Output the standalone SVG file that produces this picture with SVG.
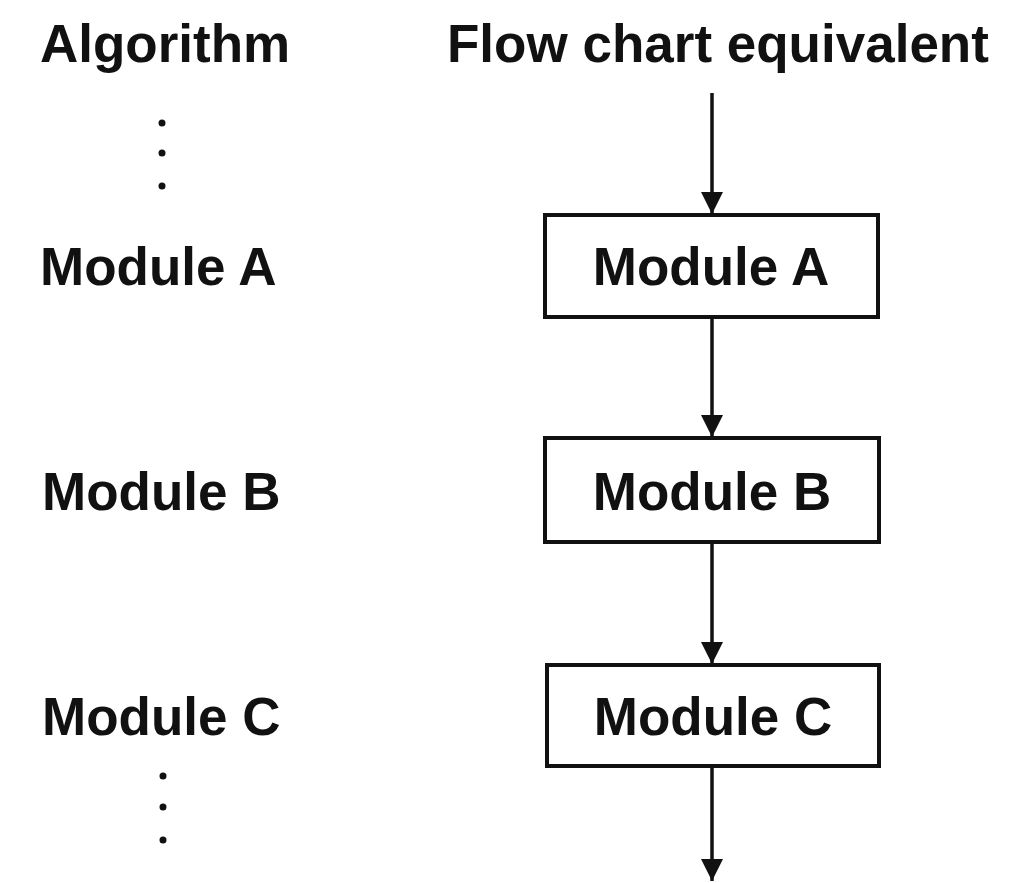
<svg xmlns="http://www.w3.org/2000/svg" width="1030" height="883" viewBox="0 0 1030 883">
<defs>
<style>
text{font-family:"Liberation Sans",Arial,sans-serif;font-weight:bold;font-size:53px;fill:#111}
.box{fill:#fff;stroke:#111;stroke-width:4}
.conn line{stroke:#111;stroke-width:3.5}
.dot{fill:#111}
</style>
<marker id="ah" markerUnits="userSpaceOnUse" markerWidth="22" markerHeight="30" refX="22" refY="11" orient="auto" viewBox="0 0 22 22">
<path d="M0,0 L22,11 L0,22 Z" fill="#111"/>
</marker>
</defs>
<rect width="1030" height="883" fill="#fff"/>
<g id="headers">
<text x="40" y="62">Algorithm</text>
<text x="447" y="62">Flow chart equivalent</text>
</g>
<g id="algorithm">
<circle class="dot" cx="162" cy="123" r="3.5"/>
<circle class="dot" cx="162" cy="153" r="3.5"/>
<circle class="dot" cx="162" cy="186" r="3.5"/>
<text x="40" y="285">Module A</text>
<text x="42" y="510">Module B</text>
<text x="42" y="735">Module C</text>
<circle class="dot" cx="163" cy="776" r="3.5"/>
<circle class="dot" cx="163" cy="807" r="3.5"/>
<circle class="dot" cx="163" cy="840" r="3.5"/>
</g>
<g id="connectors" class="conn">
<line x1="712" y1="93" x2="712" y2="214" marker-end="url(#ah)"/>
<line x1="712" y1="317" x2="712" y2="437" marker-end="url(#ah)"/>
<line x1="712" y1="542" x2="712" y2="664" marker-end="url(#ah)"/>
<line x1="712" y1="766" x2="712" y2="881" marker-end="url(#ah)"/>
</g>
<g id="moduleA">
<rect class="box" x="545" y="215" width="333" height="102"/>
<text x="711" y="285" text-anchor="middle">Module A</text>
</g>
<g id="moduleB">
<rect class="box" x="545" y="438" width="334" height="104"/>
<text x="712" y="510" text-anchor="middle">Module B</text>
</g>
<g id="moduleC">
<rect class="box" x="547" y="665" width="332" height="101"/>
<text x="713" y="735" text-anchor="middle">Module C</text>
</g>
</svg>
